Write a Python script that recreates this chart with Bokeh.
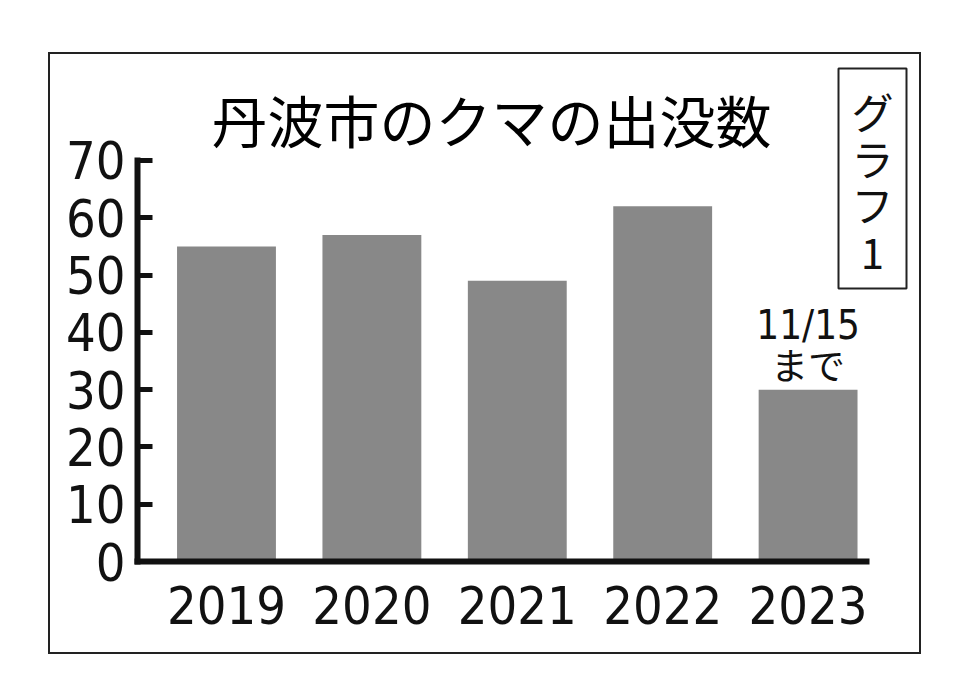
from bokeh.plotting import figure
from bokeh.models import Range1d, FixedTicker, Label, BoxAnnotation
from bokeh.embed import file_html
from bokeh.resources import INLINE

# ---- data ----
years = ["2019", "2020", "2021", "2022", "2023"]
counts = [55, 57, 49, 62, 30]
y_ticks = [0, 10, 20, 30, 40, 50, 60, 70]
title_text = "丹波市のクマの出没数"
badge_text = "グ\nラ\nフ\n1"
note_date = "11/15"
note_until = "まで"

W, H = 873, 602
NARROW = "DejaVu Sans Condensed"
JP = "Noto Sans CJK JP"
BAR = "#888888"
INK = "#111111"

idx = list(range(len(years)))

p = figure(width=W, height=H, output_backend="svg", toolbar_location=None,
           x_range=Range1d(-0.612, 4.780), y_range=Range1d(0, 88.85),
           min_border_left=89, min_border_right=0,
           min_border_top=0, min_border_bottom=93)
p.styles = {"margin-left": "48px", "margin-top": "52px",
            "outline": "2px solid #222222", "outline-offset": "-2px"}
p.background_fill_color = None
p.border_fill_color = None
p.outline_line_color = None
p.grid.visible = False

p.vbar(x=idx, top=counts, bottom=0, width=0.68, fill_color=BAR, line_color=None)

# y axis
ya = p.yaxis[0]
ya.ticker = FixedTicker(ticks=y_ticks)
ya.bounds = (0, 70)
ya.axis_line_width = 6
ya.axis_line_color = INK
ya.axis_line_cap = "square"
ya.major_tick_in = 15
ya.major_tick_out = 0
ya.major_tick_line_width = 5
ya.major_tick_line_color = INK
ya.minor_tick_line_color = None
ya.major_label_text_font = NARROW
ya.major_label_text_font_size = "52px"
ya.major_label_text_color = INK
ya.major_label_standoff = 12

# x axis
xa = p.xaxis[0]
xa.ticker = FixedTicker(ticks=idx)
xa.bounds = (-0.612, 4.40)
xa.major_label_overrides = {i: y for i, y in zip(idx, years)}
xa.axis_line_width = 6
xa.axis_line_color = INK
xa.axis_line_cap = "square"
xa.major_tick_line_color = None
xa.minor_tick_line_color = None
xa.major_label_text_font = NARROW
xa.major_label_text_font_size = "52px"
xa.major_label_text_color = INK
xa.major_label_standoff = 18

# badge box
p.add_layout(BoxAnnotation(left=790, right=858, top=16, bottom=236,
                           left_units="canvas", right_units="canvas",
                           top_units="canvas", bottom_units="canvas",
                           fill_color=None, line_color="#222222",
                           line_alpha=1.0, line_width=2))

p.add_layout(Label(x=443, y=66, x_units="canvas", y_units="canvas", text=title_text,
                   text_font=JP, text_font_size="56px",
                   text_color="#000000", text_align="center", text_baseline="middle"))
p.add_layout(Label(x=824, y=128, x_units="canvas", y_units="canvas", text=badge_text,
                   text_font=JP, text_font_size="42px", text_color=INK,
                   text_align="center", text_baseline="middle", text_line_height=0.77))

p.add_layout(Label(x=idx[-1], y=counts[-1] + 11.2, text=note_date,
                   text_font=NARROW, text_font_size="40px", text_color=INK,
                   text_align="center", text_baseline="middle"))
p.add_layout(Label(x=idx[-1], y=counts[-1] + 4.4, text=note_until,
                   text_font=JP, text_font_size="37px", text_color=INK,
                   text_align="center", text_baseline="middle"))

open("out.html", "w").write(file_html(p, INLINE))
